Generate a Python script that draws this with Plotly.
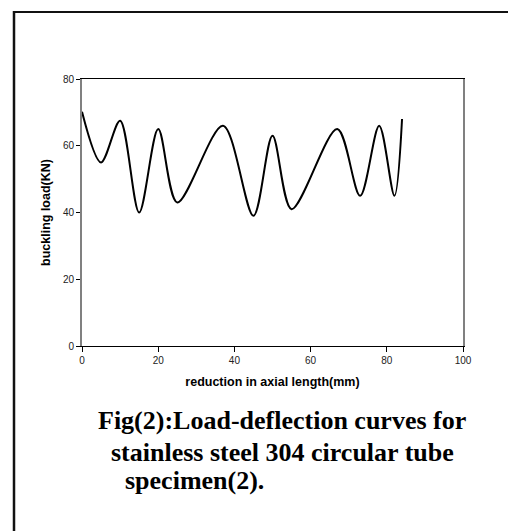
import plotly.graph_objects as go

# Load-deflection readings for specimen (2)
reduction_mm = [0, 5, 10, 15, 20, 25, 37, 45, 50, 55, 67, 73, 78, 82, 84]
load_kn = [70.2, 55, 67.5, 40, 65, 43, 66, 39, 63, 41, 65, 45, 66, 45, 68]

x_ticks = [0, 20, 40, 60, 80, 100]
y_ticks = [0, 20, 40, 60, 80]

W, H = 508, 531
L, R, T, B = 82, 45, 79, 185
PW, PH = W - L - R, H - T - B


def px(x):
    return (x - L) / PW


def py(y):
    return (H - B - y) / PH


fig = go.Figure()
fig.add_trace(go.Scatter(
    x=reduction_mm, y=load_kn, mode="lines",
    line=dict(color="black", width=2, shape="spline", smoothing=0.9),
    showlegend=False, hoverinfo="skip",
))

tick_font = dict(family="Liberation Sans, Arial, sans-serif", size=10, color="#222")
title_font = dict(family="Liberation Sans, Arial, sans-serif", size=12.5, color="black")

fig.update_layout(
    width=W, height=H,
    margin=dict(l=L, r=R, t=T, b=B),
    paper_bgcolor="white", plot_bgcolor="white",
    xaxis=dict(
        range=[0, 100], tickvals=x_ticks, ticks="outside", ticklen=5,
        tickcolor="black", showline=True, linecolor="black", linewidth=1,
        mirror=True, showgrid=False, zeroline=False, tickfont=tick_font,
        title=dict(text="<b>reduction in axial length(mm)</b>", font=title_font, standoff=12),
    ),
    yaxis=dict(
        range=[0, 80], tickvals=y_ticks, ticks="outside", ticklen=4,
        tickcolor="black", showline=True, linecolor="#808080", linewidth=2,
        mirror=True, showgrid=False, zeroline=False, tickfont=tick_font,
        title=dict(text="<b>buckling load(KN)</b>", font=title_font, standoff=10),
    ),
)

# Page frame: left and top rules
fig.add_shape(type="line", xref="paper", yref="paper",
              x0=px(14), x1=px(14), y0=py(11), y1=py(H + 5),
              line=dict(color="#111", width=2.5))
fig.add_shape(type="line", xref="paper", yref="paper",
              x0=px(13), x1=px(W + 5), y0=py(12), y1=py(12),
              line=dict(color="#111", width=2))

cap_font = dict(family="Liberation Serif, Times New Roman, serif", size=26, color="black")
fig.add_annotation(text="<b>Fig(2):Load-deflection curves for</b>", xref="paper", yref="paper",
                   x=px(282), y=py(420), xanchor="center", yanchor="middle",
                   showarrow=False, font=cap_font)
fig.add_annotation(text="<b>stainless steel 304 circular tube</b>", xref="paper", yref="paper",
                   x=px(282), y=py(452), xanchor="center", yanchor="middle",
                   showarrow=False, font=cap_font)
fig.add_annotation(text="<b>specimen(2).</b>", xref="paper", yref="paper",
                   x=px(123), y=py(480), xanchor="left", yanchor="middle",
                   showarrow=False, font=cap_font)

fig.write_html("out.html")
